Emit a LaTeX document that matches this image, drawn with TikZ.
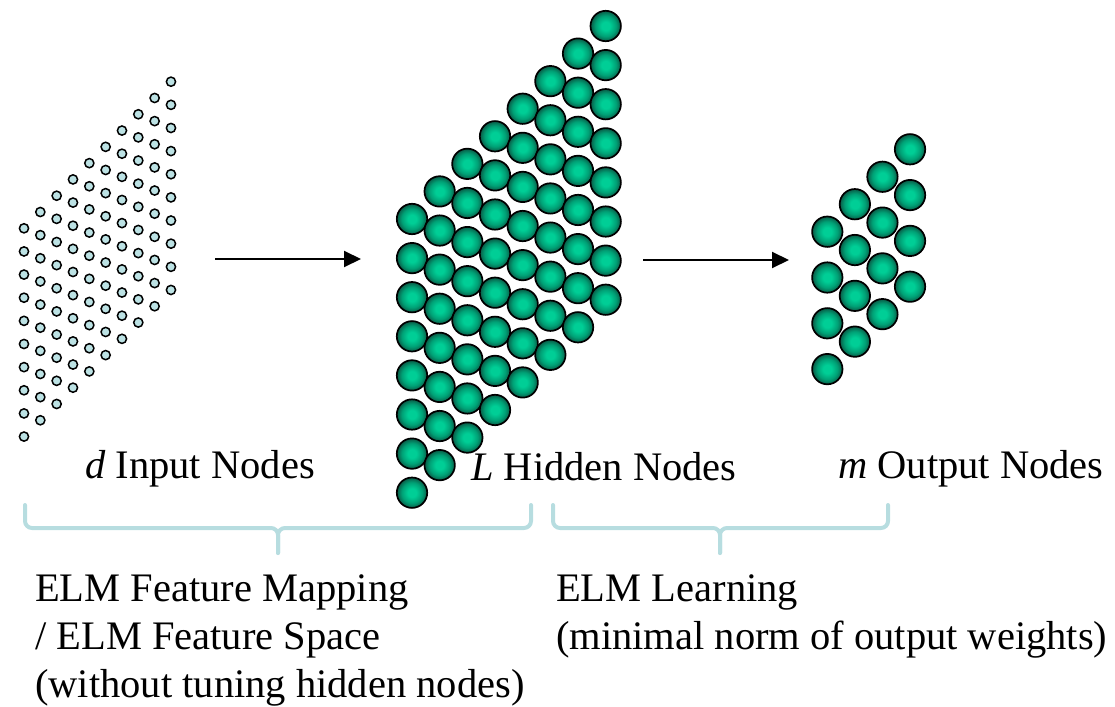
\documentclass[tikz,border=0pt]{standalone}
\usepackage{fontspec}
\setmainfont{Liberation Serif}
\usetikzlibrary{arrows.meta}
\definecolor{inputfill}{RGB}{188,226,228}
\definecolor{bracecol}{RGB}{183,221,224}
\definecolor{gcenter}{RGB}{0,206,150}
\definecolor{gmid}{RGB}{0,160,117}
\definecolor{gedge}{RGB}{10,90,70}
\pgfdeclareradialshading{greenball}{\pgfpoint{0bp}{0bp}}{color(0bp)=(gcenter); color(7bp)=(gcenter); color(17bp)=(gmid); color(25bp)=(gedge); color(50bp)=(gedge)}
\tikzset{
  innode/.style={circle, draw=black, line width=1.5pt, fill=inputfill, minimum size=9.2pt, inner sep=0pt},
  ballnode/.style={circle, draw=black, line width=1.7pt, shading=greenball, minimum size=30.4pt, inner sep=0pt},
  lbl/.style={font=\fontsize{40.5}{48}\selectfont, inner sep=0pt, anchor=base west, align=left},
  bracepath/.style={draw=bracecol, line width=4pt, line cap=round, rounded corners=7pt},
  arrowline/.style={line width=2pt, -{Triangle[length=17pt,width=16pt]}}
}
\begin{document}
\begin{tikzpicture}[x=1pt, y=-1pt]
\useasboundingbox (0,0) rectangle (1115,706);
% input nodes
\foreach \i in {0,...,9}{
  \foreach \j in {0,...,9}{
    \node[innode] (in-\i-\j) at ({24+16.33*\i},{228.3-16.29*\i+23.14*\j}) {};
  }
}
% hidden nodes
\foreach \i in {0,...,7}{
  \foreach \j in {0,...,7}{
    \node[ballnode] (hid-\i-\j) at ({412+27.67*\i},{219-27.57*\i+39.1*\j}) {};
  }
}
% output nodes
\foreach \i in {0,...,3}{
  \foreach \j in {0,...,3}{
    \node[ballnode] (out-\i-\j) at ({827.3+27.57*\i},{231.7-27.47*\i+45.8*\j}) {};
  }
}
% arrows
\coordinate (a1s) at (215,259);
\coordinate (a1e) at (361,259);
\coordinate (a2s) at (643,260);
\coordinate (a2e) at (789,260);
\draw[arrowline] (a1s) -- (a1e);
\draw[arrowline] (a2s) -- (a2e);
% labels
\node[lbl] (lin) at (85,478) {\textit{d} Input Nodes};
\node[lbl] (lhid) at (471,480) {\textit{L} Hidden Nodes};
\node[lbl] (lout) at (838,478) {\textit{m} Output Nodes};
% braces
\coordinate (b1l) at (25,505);
\coordinate (b1r) at (531,505);
\coordinate (b1t) at (278,553);
\coordinate (b2l) at (553,505);
\coordinate (b2r) at (888,505);
\coordinate (b2t) at (720,553);
\draw[bracepath] (b1l) |- (b1t |- 0,528) -- (b1t);
\draw[bracepath] (b1r) |- (b1t |- 0,528) -- (b1t);
\draw[bracepath] (b2l) |- (b2t |- 0,528) -- (b2t);
\draw[bracepath] (b2r) |- (b2t |- 0,528) -- (b2t);
% bottom texts (base anchor = baseline of the last line)
\node[lbl] (tmap) at (35,697) {ELM Feature Mapping\\/ ELM Feature Space\\(without tuning hidden nodes)};
\node[lbl] (tlearn) at (556,649) {ELM Learning\\(minimal norm of output weights)};
\end{tikzpicture}
\end{document}
